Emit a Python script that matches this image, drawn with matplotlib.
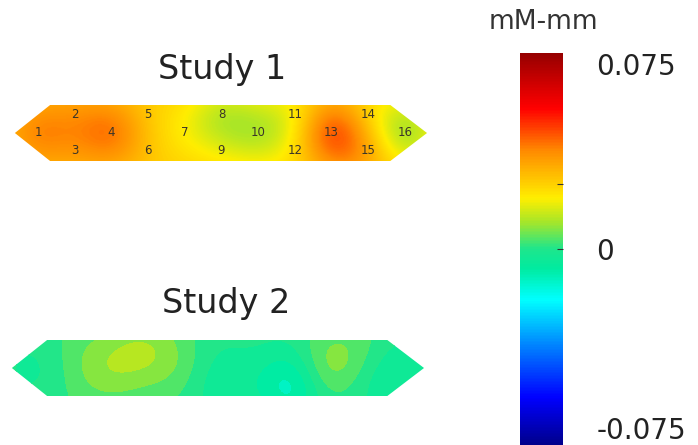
import numpy as np
import matplotlib.pyplot as plt
from matplotlib.colors import LinearSegmentedColormap, Normalize
from matplotlib.patches import Polygon
from matplotlib.cm import ScalarMappable

# electrode numbers and where they sit on the strip
# (column along the strip, row: -1 top, 0 middle, 1 bottom)
electrodes = list(range(1, 17))
elec_col = [0, 1, 1, 2, 3, 3, 4, 5, 5, 6, 7, 7, 8, 9, 9, 10]
elec_row = [0, -1, 1, 0, -1, 1, 0, -1, 1, 0, -1, 1, 0, -1, 1, 0]

# values at each electrode (mM-mm)
study1 = [0.039, 0.037, 0.036, 0.041, 0.027, 0.028, 0.019, 0.011, 0.017,
          0.010, 0.020, 0.023, 0.045, 0.025, 0.033, 0.010]
study2 = [-0.003, 0.004, 0.003, 0.011, 0.012, 0.006, 0.005, -0.002, -0.005,
          -0.005, -0.003, -0.012, 0.007, 0.003, -0.002, -0.006]

titles = ["Study 1", "Study 2"]
cbar_label = "mM-mm"
cbar_ticks = [-0.075, 0, 0.025, 0.075]
cbar_ticklabels = ["-0.075", "0", "", "0.075"]
vmin, vmax = -0.075, 0.075

cmap = LinearSegmentedColormap.from_list("jetlike", [
    (0.00, "#00008c"), (0.12, "#0000ff"), (0.25, "#0080ff"),
    (0.37, "#00ffff"), (0.45, "#00eba0"), (0.50, "#1ee68c"),
    (0.57, "#a8e628"), (0.63, "#ffee00"), (0.75, "#ff8c00"),
    (0.86, "#ff0000"), (1.00, "#960000")])
norm = Normalize(vmin, vmax)

fig = plt.figure(figsize=(6.98, 4.45), dpi=100)
ax = fig.add_axes([0, 0, 1, 1])
ax.set_xlim(0, 698)
ax.set_ylim(445, 0)
ax.axis("off")

DX, DY = 36.7, 18.0


def draw_strip(values, x0, cy, banded, numbers):
    ex = x0 + DX * np.array(elec_col)
    ey = cy + DY * np.array(elec_row)
    v = np.array(values)

    hexagon = [(x0 - 0.63 * DX, cy), (x0 + 0.33 * DX, cy - 28),
               (x0 + 9.6 * DX, cy - 28), (x0 + 10.6 * DX, cy),
               (x0 + 9.6 * DX, cy + 28), (x0 + 0.33 * DX, cy + 28)]
    patch = Polygon(hexagon, closed=True, facecolor="none", edgecolor="none")
    ax.add_patch(patch)

    # gaussian rbf surface through the electrode values
    s = 36.0
    mean = v.mean()
    d2e = (ex[:, None] - ex) ** 2 + (ey[:, None] - ey) ** 2
    coef = np.linalg.solve(np.exp(-d2e / s ** 2) + 0.15 * np.eye(len(v)), v - mean)

    xs = np.linspace(x0 - 0.7 * DX, x0 + 10.7 * DX, 400)
    ys = np.linspace(cy - 30, cy + 30, 80)
    xx, yy = np.meshgrid(xs, ys)
    d2 = (xx[..., None] - ex) ** 2 + (yy[..., None] - ey) ** 2
    zz = mean + (np.exp(-d2 / s ** 2) * coef).sum(-1)

    if banded:
        cs = ax.contourf(xx, yy, zz, levels=np.linspace(vmin, vmax, 38),
                         cmap=cmap, norm=norm)
        cs.set_clip_path(patch)
    else:
        im = ax.imshow(zz, cmap=cmap, norm=norm, origin="upper",
                       extent=(xs[0], xs[-1], ys[-1], ys[0]),
                       interpolation="bilinear", aspect="auto")
        im.set_clip_path(patch)

    if numbers:
        for n, x, y in zip(electrodes, ex, ey):
            ax.text(x, y, str(n), ha="center", va="center", fontsize=8.5,
                    color="#3a3528")


draw_strip(study1, 38, 133, False, True)
draw_strip(study2, 35, 368, True, False)

ax.text(222, 70, titles[0], ha="center", va="center", fontsize=24, color="#222222")
ax.text(226, 303, titles[1], ha="center", va="center", fontsize=24, color="#222222")
ax.text(543, 22, cbar_label, ha="center", va="center", fontsize=19, color="#333333")

cax = fig.add_axes([520 / 698, 0, 43 / 698, 392 / 445])
cb = fig.colorbar(ScalarMappable(norm=norm, cmap=cmap), cax=cax)
cb.outline.set_visible(False)
cb.set_ticks(cbar_ticks, labels=cbar_ticklabels)
cax.tick_params(axis="y", direction="in", length=4, width=0.8, color="#333333",
                pad=24, labelsize=20, labelcolor="#222222")
ticks = cax.yaxis.get_major_ticks()
for t in (ticks[0], ticks[-1]):
    t.tick1line.set_visible(False)
    t.tick2line.set_visible(False)
labels = cax.get_yticklabels()
labels[0].set_va("bottom")
labels[-1].set_va("top")

fig.savefig("out.png", dpi=100)
